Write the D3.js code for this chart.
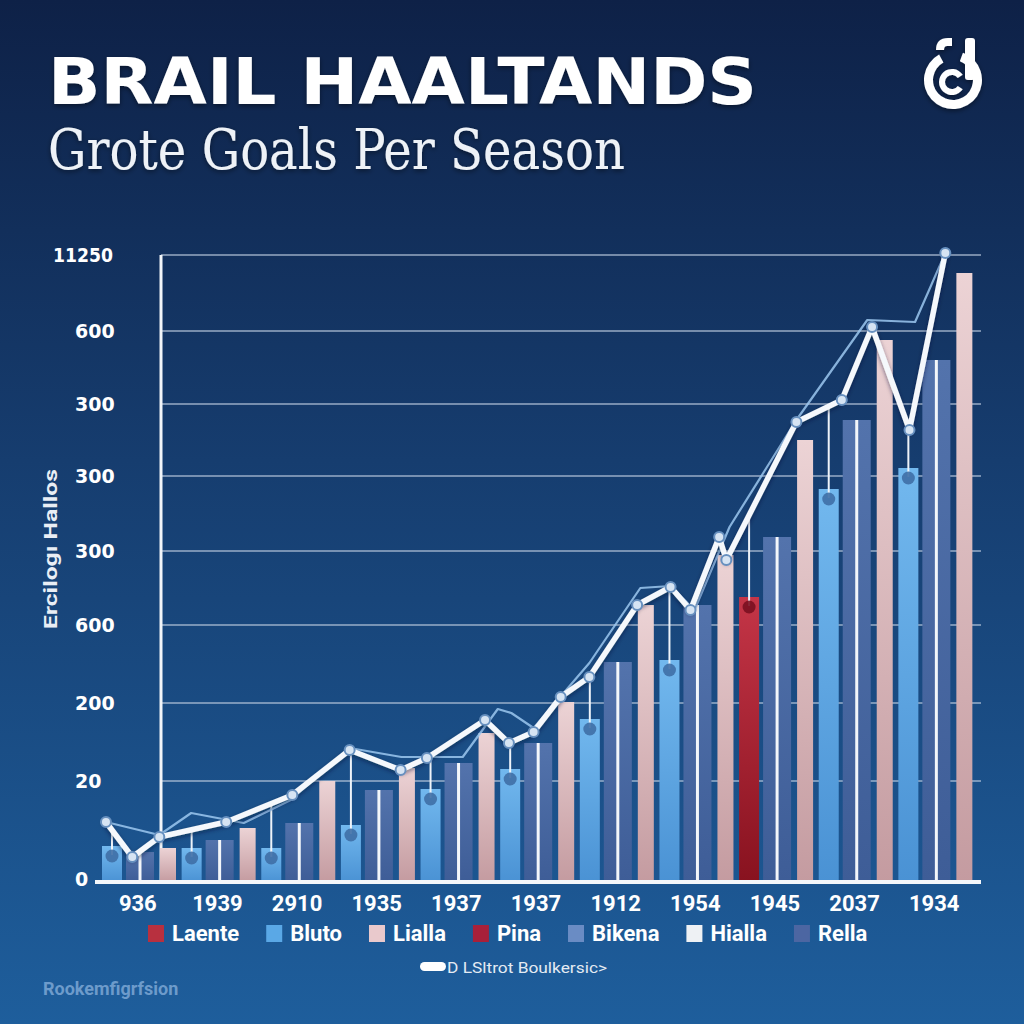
<!DOCTYPE html>
<html><head><meta charset="utf-8">
<script src="https://cdn.jsdelivr.net/npm/d3@7"></script>
<style>html,body{margin:0;padding:0;background:#0f2248;} svg{display:block}</style>
</head><body><svg id="c" width="1024" height="1024"></svg>
<script>
// ---------- data ----------
const seasons = ["936","1939","2910","1935","1937","1937","1912","1954","1945","2037","1934"];
const blutoValues  = [72, 68, 68, 114, 186, 226, 326, 444, 570, 786, 828];
const rellaValues  = [60, 84, 118, 184, 238, 278, 440, 554, 690, 924, 1044];
const liallaValues = [68, 108, 202, 228, 298, 360, 554, 654, 884, 1084, 1218];
const pinaSeason = 8; // season where the first bar is the highlighted "Pina" bar
const yTickValues = [0, 202, 358, 514, 662, 812, 956, 1102, 1254];
const yTickLabels = ["0", "20", "200", "600", "300", "300", "300", "600", "11250"];
// trend line (season position, value)
const trendPos    = [0.10, 0.43, 0.77, 1.61, 2.44, 3.16, 3.80, 4.13, 4.86, 5.16, 5.47, 5.81, 6.17, 6.77, 7.19, 7.44, 7.80, 7.89, 8.77, 9.34, 9.72, 10.19, 10.64];
const trendValues = [120, 50, 90, 120, 174, 264, 224, 248, 324, 278, 300, 370, 410, 554, 590, 544, 690, 644, 920, 964, 1110, 904, 1258];
// secondary thin line
const echoPos    = [0.10, 0.77, 1.17, 1.83, 2.42, 3.16, 3.81, 4.58, 5.02, 5.19, 5.47, 6.17, 6.81, 7.19, 7.49, 7.93, 8.77, 9.66, 10.26, 10.64];
const echoValues = [120, 94, 138, 118, 164, 268, 250, 250, 346, 338, 308, 438, 588, 592, 544, 710, 924, 1124, 1120, 1258];
const legendNames = ["Laente", "Bluto", "Lialla", "Pina", "Bikena", "Hialla", "Rella"];
const legendColors = ["#b8303f", "#5aa8e6", "#e9c9cc", "#a8203a", "#6a8cc4", "#eef1f4", "#4c66a2"];

// ---------- setup ----------
const svg = d3.select("#c");
const defs = svg.append("defs");
const bg = defs.append("linearGradient").attr("id","bg").attr("x1",0).attr("y1",0).attr("x2",0).attr("y2",1);
bg.append("stop").attr("offset","0%").attr("stop-color","#0e2147");
bg.append("stop").attr("offset","45%").attr("stop-color","#163d6f");
bg.append("stop").attr("offset","100%").attr("stop-color","#1e5e9c");
function vgrad(id, c1, c2){
  const g = defs.append("linearGradient").attr("id",id).attr("x1",0).attr("y1",0).attr("x2",0).attr("y2",1);
  g.append("stop").attr("offset","0%").attr("stop-color",c1);
  g.append("stop").attr("offset","100%").attr("stop-color",c2);
}
vgrad("gLB","#72b8ee","#4a92d4");
vgrad("gDB","#5373ac","#3e5d97");
vgrad("gPK","#ecd3d5","#c49ba0");
vgrad("gRD","#c43547","#88121f");
const sh = defs.append("filter").attr("id","sh").attr("x","-10%").attr("y","-20%").attr("width","130%").attr("height","150%");
sh.append("feDropShadow").attr("dx",0).attr("dy",2).attr("stdDeviation",2.5).attr("flood-color","#000").attr("flood-opacity",0.45);
const sh2 = defs.append("filter").attr("id","sh2").attr("x","-10%").attr("y","-10%").attr("width","120%").attr("height","120%");
sh2.append("feDropShadow").attr("dx",0).attr("dy",2).attr("stdDeviation",2).attr("flood-color","#06162f").attr("flood-opacity",0.5);

svg.append("rect").attr("width",1024).attr("height",1024).attr("fill","url(#bg)");

// scales
const y = d3.scaleLinear().domain([0, 1254]).range([882, 255]);
const xg = d3.scaleBand().domain(d3.range(seasons.length)).range([98, 974]).padding(0);
const xs = d3.scalePoint().domain([0,1,2]).range([14, 70]);
const subW = [20, 28, 16];
const xc = d3.scaleLinear().domain([0, seasons.length]).range(xg.range());

// gridlines
svg.append("g").selectAll("line").data(yTickValues.slice(1)).join("line")
  .attr("x1",161).attr("x2",981).attr("y1",d=>y(d)).attr("y2",d=>y(d))
  .attr("stroke","#b9c8dc").attr("stroke-opacity",0.6).attr("stroke-width",2);

// y axis line
svg.append("line").attr("x1",161).attr("x2",161).attr("y1",y(1254)).attr("y2",y(0))
  .attr("stroke","#f2f5f9").attr("stroke-width",3);

// bars
const bars = [];
seasons.forEach((s,i)=>{
  bars.push({g:i, k:0, v:blutoValues[i], fill: i===pinaSeason ? "url(#gRD)" : "url(#gLB)", red: i===pinaSeason});
  bars.push({g:i, k:1, v:rellaValues[i], fill:"url(#gDB)"});
  bars.push({g:i, k:2, v:liallaValues[i], fill:"url(#gPK)"});
});
const bx = d => xg(d.g) + xs(d.k) - subW[d.k]/2;
const bcx = d => xg(d.g) + xs(d.k);
svg.append("g").selectAll("rect").data(bars).join("rect")
  .attr("x", bx).attr("width", d=>subW[d.k])
  .attr("y", d=>y(d.v)).attr("height", d=>y(0)-y(d.v))
  .attr("fill", d=>d.fill);
// white stripes on dark-blue bars
svg.append("g").selectAll("line").data(bars.filter(d=>d.k===1)).join("line")
  .attr("x1",bcx).attr("x2",bcx).attr("y1",d=>y(d.v)).attr("y2",y(0))
  .attr("stroke","#f3f6fa").attr("stroke-width",3);

// trend points in pixel space
const trendPts = trendPos.map((p,i)=>[xc(p), y(trendValues[i])]);
const echoPts = echoPos.map((p,i)=>[xc(p), y(echoValues[i])]);
function lineYAt(px){
  for(let i=0;i<trendPts.length-1;i++){
    const a=trendPts[i], b=trendPts[i+1];
    if(px>=a[0] && px<=b[0]){ const t=(px-a[0])/(b[0]-a[0]||1); return a[1]+t*(b[1]-a[1]); }
  }
  return trendPts[0][1];
}
// drop lines and dots for first-series bars
const firstBars = bars.filter(d=>d.k===0);
svg.append("g").selectAll("line").data(firstBars).join("line")
  .attr("x1",bcx).attr("x2",bcx).attr("y1",d=>lineYAt(bcx(d))).attr("y2",d=>y(d.v)+9)
  .attr("stroke","#eef3f9").attr("stroke-width",2);
svg.append("g").selectAll("circle").data(firstBars).join("circle")
  .attr("cx",bcx).attr("cy",d=>y(d.v)+10).attr("r",6.5)
  .attr("fill",d=>d.red ? "#7a1020" : "#3f6fa6").attr("fill-opacity",0.9);

// baseline
svg.append("line").attr("x1",95).attr("x2",981).attr("y1",y(0)).attr("y2",y(0))
  .attr("stroke","#f4f7fb").attr("stroke-width",4);

// lines
const lineGen = d3.line();
svg.append("path").attr("d", lineGen(echoPts)).attr("fill","none")
  .attr("stroke","#9cc8f0").attr("stroke-opacity",0.85).attr("stroke-width",2.2).attr("stroke-linejoin","round");
svg.append("path").attr("d", lineGen(trendPts)).attr("fill","none").attr("filter","url(#sh2)")
  .attr("stroke","#f5f8fc").attr("stroke-width",5.5).attr("stroke-linejoin","round").attr("stroke-linecap","round");
svg.append("g").selectAll("circle").data(trendPts).join("circle")
  .attr("cx",d=>d[0]).attr("cy",d=>d[1]).attr("r",5)
  .attr("fill","#d6e4f3").attr("stroke","#6790bf").attr("stroke-width",2);

// axes
const yAxis = svg.append("g").attr("transform","translate(75,0)")
  .call(d3.axisLeft(y).tickValues(yTickValues).tickFormat((d,i)=>yTickLabels[i]).tickSize(0).tickPadding(0));
yAxis.select(".domain").remove();
yAxis.selectAll("text").attr("fill","#ffffff").attr("font-family","DejaVu Sans").attr("font-weight","bold")
  .attr("font-size",19).attr("text-anchor","start")
  .each(function(){
    const w = this.getComputedTextLength();
    if (w > 48) d3.select(this).attr("x",-22).attr("textLength",60).attr("lengthAdjust","spacingAndGlyphs");
  });
yAxis.selectAll(".tick").filter(d=>d===0).select("text").attr("dy","0.2em");

const xAxis = svg.append("g").attr("transform",`translate(0,${y(0)})`)
  .call(d3.axisBottom(xg).tickFormat(i=>seasons[i]).tickSize(0).tickPadding(13));
xAxis.select(".domain").remove();
xAxis.selectAll("text").attr("fill","#ffffff").attr("font-family","Roboto").attr("font-weight","bold").attr("font-size",22);

// y axis title
svg.append("text").attr("transform","translate(57,549) rotate(-90)").attr("text-anchor","middle")
  .attr("font-family","Roboto").attr("font-weight","bold").attr("font-size",19).attr("fill","#e9eef5")
  .attr("textLength",160).attr("lengthAdjust","spacingAndGlyphs").text("Ercilogı Hallos");

// title
svg.append("text").attr("x",48).attr("y",104).attr("font-family","DejaVu Sans").attr("font-weight","bold")
  .attr("font-size",64).attr("fill","#ffffff").attr("filter","url(#sh)")
  .attr("textLength",709).attr("lengthAdjust","spacingAndGlyphs").text("BRAIL HAALTANDS");
svg.append("text").attr("x",48).attr("y",169).attr("font-family","DejaVu Serif Condensed, DejaVu Serif").attr("font-stretch","condensed")
  .attr("font-size",56).attr("fill","#eef2f7").attr("filter","url(#sh)")
  .attr("textLength",577).attr("lengthAdjust","spacingAndGlyphs").text("Grote Goals Per Season");

// logo
const logo = svg.append("g").attr("filter","url(#sh)");
logo.append("path").attr("d", d3.arc()({innerRadius:20, outerRadius:29, startAngle: 0.35, endAngle: 2*Math.PI - 0.5}))
  .attr("transform","translate(953,80)").attr("fill","#ffffff");
logo.append("rect").attr("x",965).attr("y",38).attr("width",10).attr("height",42).attr("rx",3).attr("fill","#ffffff");
logo.append("path").attr("d","M936,50 Q936,38 948,38 L952,38 L952,46 L947,46 Q944,46 944,50 Z").attr("fill","#ffffff");
logo.append("path").attr("d", d3.arc()({innerRadius:7, outerRadius:13, startAngle: 0.6, endAngle: 2*Math.PI - 0.6}))
  .attr("transform","translate(952,82) rotate(90)").attr("fill","#ffffff");

// legend
const leg = svg.append("g");
let lx = 148;
legendNames.forEach((n,i)=>{
  leg.append("rect").attr("x",lx).attr("y",925).attr("width",16).attr("height",17).attr("fill",legendColors[i]);
  const t = leg.append("text").attr("x",lx+24).attr("y",941).attr("font-family","Roboto").attr("font-weight","bold")
    .attr("font-size",22).attr("fill","#ffffff").text(n);
  lx += 24 + t.node().getComputedTextLength() + 27;
});

// footer
svg.append("rect").attr("x",420).attr("y",962).attr("width",26).attr("height",9).attr("rx",4.5).attr("fill","#ffffff");
svg.append("text").attr("x",447).attr("y",973).attr("font-family","Roboto").attr("font-size",15).attr("fill","#e4ebf3")
  .attr("textLength",160).attr("lengthAdjust","spacingAndGlyphs").text("D LSltrot Boulkersic>");
svg.append("text").attr("x",43).attr("y",995).attr("font-family","Roboto").attr("font-weight","bold").attr("font-size",18)
  .attr("fill","#6d9bcb").text("Rookemfigrfsion");
</script></body></html>
